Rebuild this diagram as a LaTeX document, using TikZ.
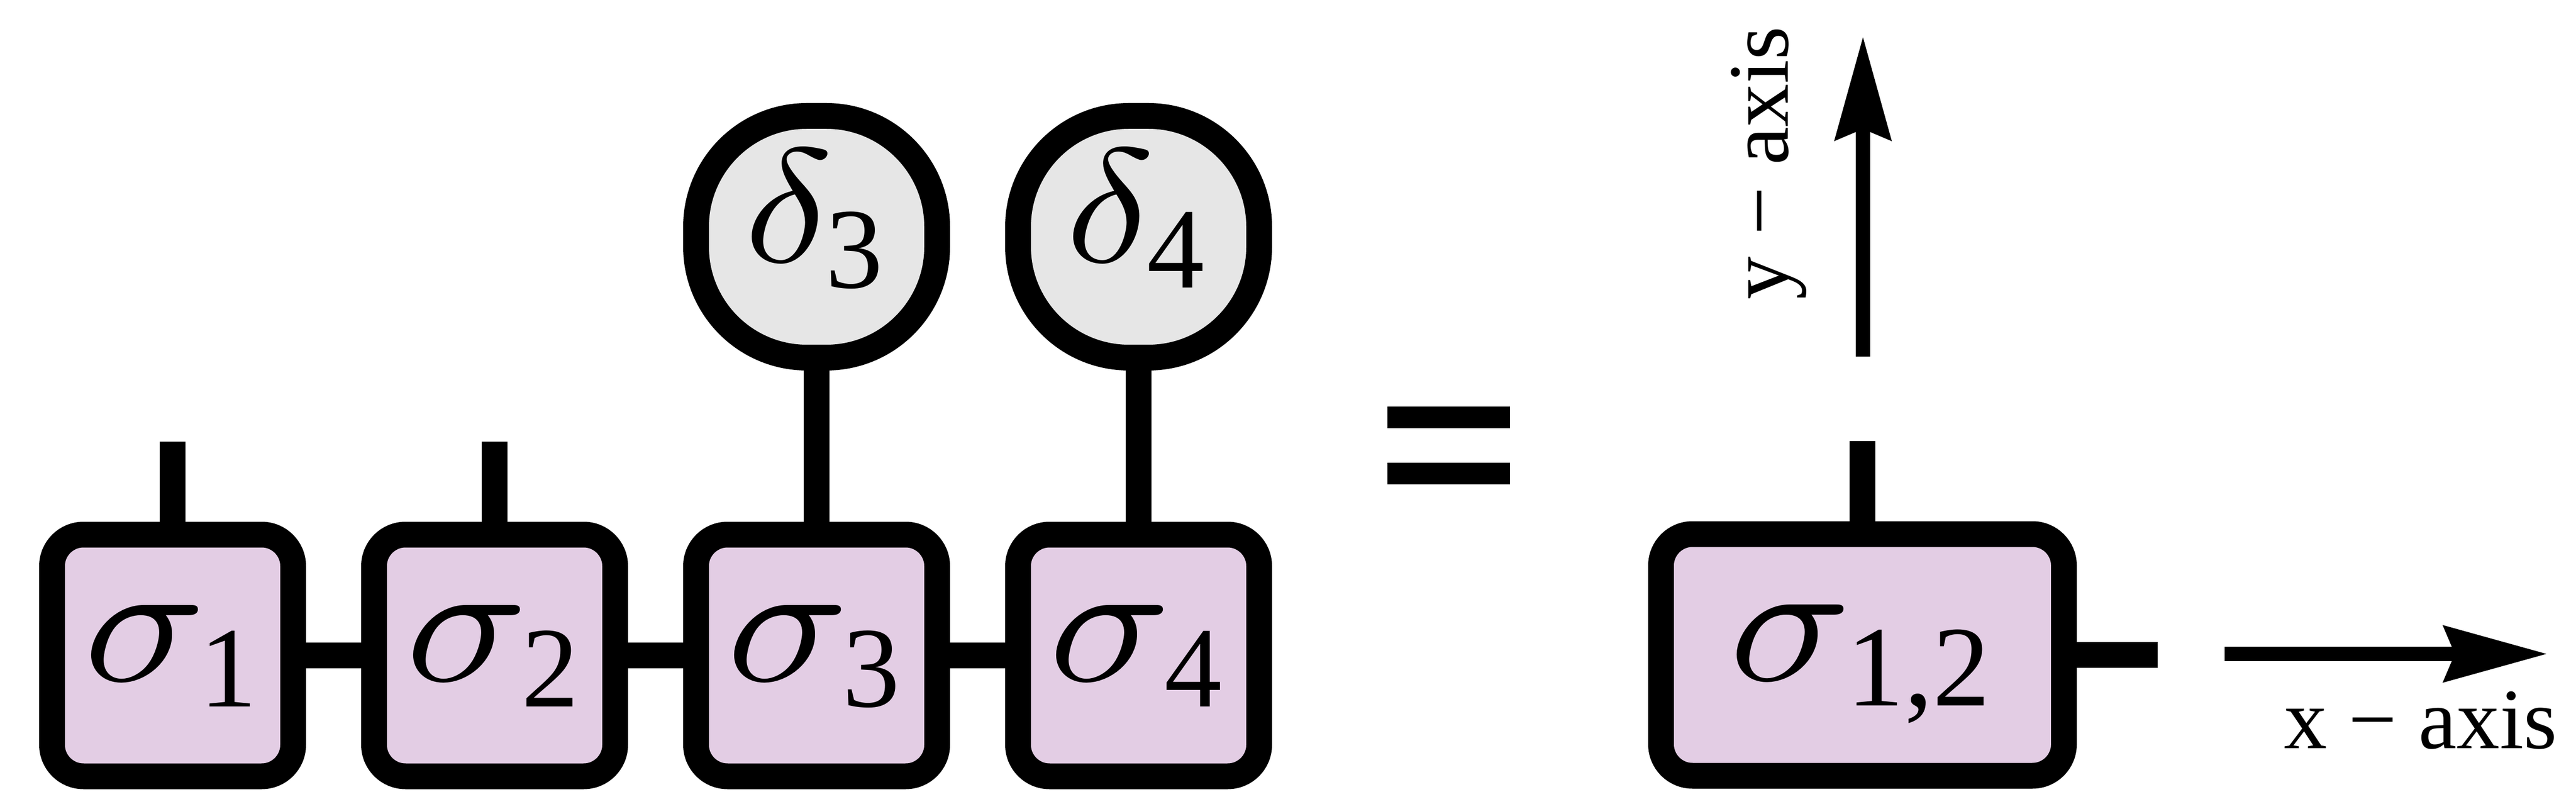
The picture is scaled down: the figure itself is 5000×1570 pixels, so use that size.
\documentclass[tikz,border=0pt]{standalone}
\usepackage{graphicx}
\usepackage{fontspec}
\setmainfont{Liberation Serif}
\usetikzlibrary{arrows.meta}
\definecolor{boxpink}{RGB}{227,205,228}
\definecolor{circgray}{RGB}{230,230,230}
\newcommand\subf{\fontsize{63.4pt}{70pt}\selectfont}
\newcommand\axf{\fontsize{47.5pt}{50pt}\selectfont}
\newcommand\sigglyph{{\fontsize{10pt}{12pt}\selectfont\scalebox{11.15}[9.7]{$\sigma$}}}
\newcommand\delglyph{{\fontsize{10pt}{12pt}\selectfont\scalebox{10.2}[8.96]{$\delta$}}}
\newcommand\tlab[3]{\makebox[#1][l]{#2}\raisebox{-5mm}{\subf #3}}
\begin{document}
\begin{tikzpicture}[x=0.1mm,y=-0.1mm,
  tensor/.style={rectangle, draw, line width=5mm, rounded corners=6.1mm, fill=boxpink,
    minimum width=46.8mm, minimum height=46.9mm, inner sep=0pt},
  widetensor/.style={tensor, minimum width=78.2mm},
  deltanode/.style={tensor, fill=circgray, rounded corners=21.5mm},
  leg/.style={line width=5mm},
  axisarrow/.style={line width=2.8mm, -{Stealth[length=20mm,width=10.6mm,inset=2mm]}},
  lab/.style={anchor=base west, inner sep=0pt},
]
\useasboundingbox (0,0) rectangle (5000,1570);

\coordinate (t1) at (335,857);
\coordinate (t2) at (960,857);
\coordinate (t12) at (3615,856);
\coordinate (r12) at (4188,1271);

\node[tensor] (b1) at (335,1272) {};
\node[tensor] (b2) at (960,1272) {};
\node[tensor] (b3) at (1585,1272) {};
\node[tensor] (b4) at (2210,1272) {};
\node[deltanode] (c3) at (1585,459.5) {};
\node[deltanode] (c4) at (2210,459.5) {};
\node[widetensor] (b12) at (3615,1271) {};

\draw[leg] (b1.north) -- (t1);
\draw[leg] (b2.north) -- (t2);
\draw[leg] (c3.south) -- (b3.north);
\draw[leg] (c4.south) -- (b4.north);
\draw[leg] (b1.east) -- (b2.west);
\draw[leg] (b2.east) -- (b3.west);
\draw[leg] (b3.east) -- (b4.west);
\draw[leg] (b12.north) -- (t12);
\draw[leg] (b12.east) -- (r12);

% labels
\node[lab] (l1) at (162,1321) {\tlab{22.5mm}{\sigglyph}{1}};
\node[lab] (l2) at (787,1321) {\tlab{22.5mm}{\sigglyph}{2}};
\node[lab] (l3) at (1410,1321) {\tlab{22.5mm}{\sigglyph}{3}};
\node[lab] (l4) at (2035,1321) {\tlab{22.5mm}{\sigglyph}{4}};
\node[lab] (d3) at (1444,509) {\tlab{15.8mm}{\delglyph}{3}};
\node[lab] (d4) at (2068,509) {\tlab{15.8mm}{\delglyph}{4}};
\node[lab] (l12) at (3356,1320) {\tlab{22.8mm}{\sigglyph}{1,2}};

% equals sign
\fill (2693,789) rectangle (2931,831);
\fill (2693,898) rectangle (2931,940);

% axes
\coordinate (xs) at (4318,1269);
\coordinate (xe) at (4945,1269);
\coordinate (ys) at (3616,692);
\coordinate (ye) at (3616,70);
\draw[axisarrow] (xs) -- (xe);
\draw[axisarrow] (ys) -- (ye);
\node[lab] (xlab) at (4433,1452) {\axf x − axis};
\node[lab, rotate=90] (ylab) at (3470,582) {\axf y − axis};
\end{tikzpicture}
\end{document}
